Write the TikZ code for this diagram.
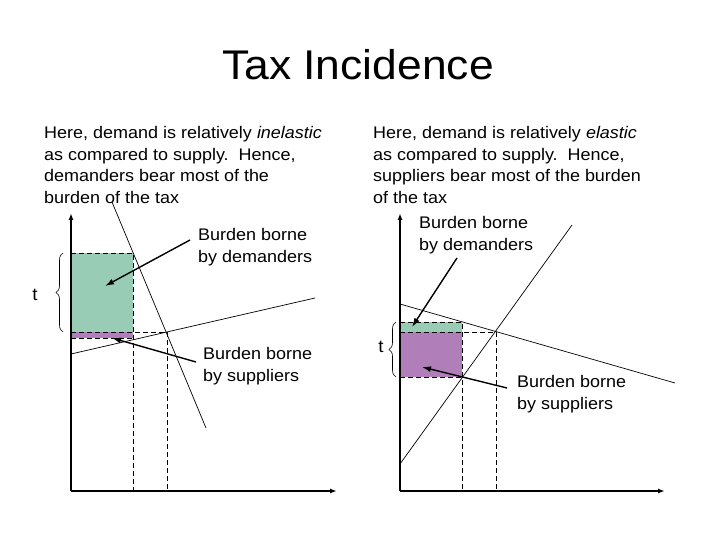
\documentclass[tikz,border=0pt]{standalone}
\usepackage{fontspec}
\setmainfont[FakeStretch=1.07]{Liberation Sans}
\usetikzlibrary{arrows.meta, decorations.pathreplacing}
\definecolor{taxgreen}{RGB}{153,204,180}
\definecolor{taxpurple}{RGB}{176,126,184}

\begin{document}
\begin{tikzpicture}[x=1pt, y=-1pt,
    heading/.style={anchor=base, inner sep=0, font=\fontsize{41.5}{44}\selectfont},
    note/.style={anchor=north west, align=left, inner sep=0, font=\fontsize{16.8}{21.7}\selectfont},
    tlabel/.style={inner sep=0, font=\fontsize{17.5}{21.7}\selectfont},
    axis/.style={line width=1.8pt, -{Latex[length=7pt,width=5pt]}},
    curve/.style={line width=0.7pt},
    guide/.style={line width=0.9pt, dash pattern=on 5pt off 3pt},
    pointer/.style={line width=1.4pt, -{Latex[length=9pt,width=6pt]}},
    tbrace/.style={decorate, decoration={brace, amplitude=7pt}, line width=0.6pt}]

    \useasboundingbox (0,0) rectangle (720,540);

    % Title
    \node[heading] (title) at (358,80) {Tax Incidence};

    % Texts above both panels
    \node[note] (lefttxt) at (44,126) {Here, demand is relatively \emph{inelastic}\\as compared to supply.\ \ Hence,\\demanders bear most of the\\burden of the tax};
    \node[note] (righttxt) at (373,126) {Here, demand is relatively \emph{elastic}\\as compared to supply.\ \ Hence,\\suppliers bear most of the burden\\of the tax};

    % Left panel: inelastic demand
    \coordinate (lo) at (71,491);
    \coordinate (ly) at (71,213);
    \coordinate (lx) at (337,491);
    \coordinate (ld1) at (112,202);
    \coordinate (ld2) at (206,428);
    \coordinate (ls1) at (71,354);
    \coordinate (ls2) at (315,298);

    \fill[taxgreen] (71,253) rectangle (133,332);
    \fill[taxpurple] (71,332) rectangle (133,338);

    \draw[guide] (71,253) -- (133,253) -- (133,491);
    \draw[guide] (71,332) -- (167,332) -- (167,491);
    \draw[guide] (71,338) -- (133,338);

    \draw[curve] (ld1) -- (ld2);
    \draw[curve] (ls1) -- (ls2);
    \draw[axis] (lo) -- (ly);
    \draw[axis] (lo) -- (lx);

    \draw[tbrace] (63,332) -- (63,253);
    \node[tlabel] (lt) at (35,295) {t};

    \node[note] (ldem) at (198,228) {Burden borne\\by demanders};
    \node[note] (lsup) at (203,347) {Burden borne\\by suppliers};
    \coordinate (ldemtail) at (190,240);
    \coordinate (ldemhead) at (105,286);
    \coordinate (lsuptail) at (196,362);
    \coordinate (lsuphead) at (112,338);
    \draw[pointer] (ldemtail) -- (ldemhead);
    \draw[pointer] (lsuptail) -- (lsuphead);

    % Right panel: elastic demand
    \coordinate (ro) at (400,491);
    \coordinate (ry) at (400,213);
    \coordinate (rx) at (665,491);
    \coordinate (rd1) at (400,304);
    \coordinate (rd2) at (675,383);
    \coordinate (rs1) at (400,464);
    \coordinate (rs2) at (572,225);

    \fill[taxgreen] (400,322) rectangle (462,332);
    \fill[taxpurple] (400,332) rectangle (462,377);

    \draw[guide] (400,322) -- (462,322) -- (462,491);
    \draw[guide] (400,332) -- (496,332) -- (496,491);
    \draw[guide] (400,377) -- (462,377);

    \draw[curve] (rd1) -- (rd2);
    \draw[curve] (rs1) -- (rs2);
    \draw[axis] (ro) -- (ry);
    \draw[axis] (ro) -- (rx);

    \draw[tbrace] (396,377) -- (396,322);
    \node[tlabel] (rt) at (381,347) {t};

    \node[note] (rdem) at (419,216) {Burden borne\\by demanders};
    \node[note] (rsup) at (517,375) {Burden borne\\by suppliers};
    \coordinate (rdemtail) at (457,258);
    \coordinate (rdemhead) at (412,327);
    \coordinate (rsuptail) at (507,388);
    \coordinate (rsuphead) at (422,367);
    \draw[pointer] (rdemtail) -- (rdemhead);
    \draw[pointer] (rsuptail) -- (rsuphead);
\end{tikzpicture}
\end{document}
